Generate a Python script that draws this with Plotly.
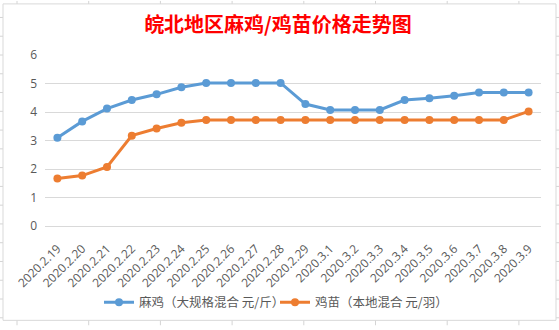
import plotly.graph_objects as go

dates = ["2020.2.19", "2020.2.20", "2020.2.21", "2020.2.22", "2020.2.23", "2020.2.24",
         "2020.2.25", "2020.2.26", "2020.2.27", "2020.2.28", "2020.2.29", "2020.3.1",
         "2020.3.2", "2020.3.3", "2020.3.4", "2020.3.5", "2020.3.6", "2020.3.7",
         "2020.3.8", "2020.3.9"]
maji = [3.1, 3.67, 4.12, 4.42, 4.62, 4.87, 5.02, 5.02, 5.02, 5.02, 4.28, 4.07,
        4.07, 4.07, 4.42, 4.48, 4.57, 4.68, 4.68, 4.68]
jimiao = [1.67, 1.77, 2.07, 3.17, 3.42, 3.62, 3.72, 3.72, 3.72, 3.72, 3.72, 3.72,
          3.72, 3.72, 3.72, 3.72, 3.72, 3.72, 3.72, 4.02]
series_names = ["麻鸡（大规格混合 元/斤）", "鸡苗（本地混合 元/羽）"]
title_text = "皖北地区麻鸡/鸡苗价格走势图"

W, H = 559, 330
L, R, T, B = 45, 18, 55, 101
PW, PH = W - L - R, H - T - B

def px(x):
    return (x - L) / PW

def py(y):
    return (H - B - y) / PH

BLUE = "#5B9BD5"
ORANGE = "#ED7D31"
FONT = "Noto Sans CJK SC, Open Sans, sans-serif"

fig = go.Figure()
fig.add_trace(go.Scatter(x=dates, y=maji, name=series_names[0], mode="lines+markers",
                         line=dict(color=BLUE, width=3), marker=dict(color=BLUE, size=8)))
fig.add_trace(go.Scatter(x=dates, y=jimiao, name=series_names[1], mode="lines+markers",
                         line=dict(color=ORANGE, width=3), marker=dict(color=ORANGE, size=8)))

shapes = []
# spreadsheet cell grid behind the chart
for i in range(20):
    yy = 16.8 + 19.1 * i
    shapes.append(dict(type="line", xref="paper", yref="paper", x0=px(0), x1=px(W),
                       y0=py(yy), y1=py(yy), line=dict(color="#D4D4D4", width=1), layer="below"))
for i in range(9):
    xx = 17 + 71.7 * i
    shapes.append(dict(type="line", xref="paper", yref="paper", x0=px(xx), x1=px(xx),
                       y0=py(0), y1=py(H), line=dict(color="#D4D4D4", width=1), layer="below"))
# chart area
shapes.append(dict(type="rect", xref="paper", yref="paper", x0=px(3), x1=px(556),
                   y0=py(325), y1=py(3), fillcolor="white",
                   line=dict(color="#D9D9D9", width=1), layer="below"))

fig.update_layout(
    width=W, height=H,
    margin=dict(l=L, r=R, t=T, b=B),
    paper_bgcolor="white", plot_bgcolor="rgba(0,0,0,0)",
    shapes=shapes,
    title=dict(text=title_text, x=278 / W, xanchor="center", xref="container",
               y=1 - 25 / H, yanchor="middle", yref="container",
               font=dict(family=FONT, size=20, color="#FF0000", weight="bold")),
    xaxis=dict(type="category", range=[-0.5, len(dates) - 0.5], tickangle=-45,
               showgrid=False, showline=True, linecolor="#D9D9D9", linewidth=1,
               ticks="", tickfont=dict(family="Open Sans, sans-serif", size=12, color="#595959"),
               ticklabelstandoff=10),
    yaxis=dict(range=[0, 6], dtick=1, showgrid=True, gridcolor="#D9D9D9", gridwidth=1,
               zeroline=False, showline=False, ticks="",
               tickfont=dict(family="Open Sans, sans-serif", size=12, color="#595959"),
               ticklabelstandoff=7),
    legend=dict(orientation="h", x=px(275), xanchor="center", y=py(307), yanchor="middle",
                itemwidth=30, entrywidth=131,
                font=dict(family=FONT, size=12.5, color="#595959"), bgcolor="rgba(0,0,0,0)"),
)

fig.write_html("out.html")
